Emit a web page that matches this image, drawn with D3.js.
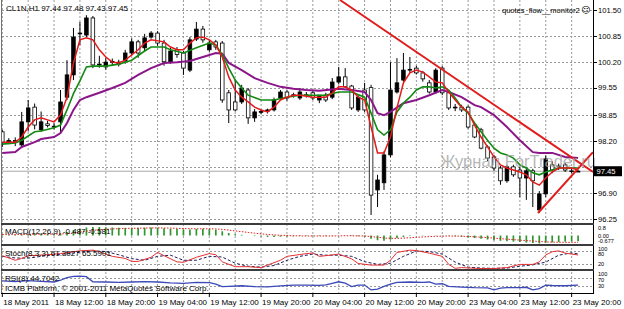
<!DOCTYPE html>
<html lang="en">
<head>
<meta charset="UTF-8">
<title>CL1N,H1</title>
<style>
    body {
        margin: 0;
        padding: 0;
        background: #fff;
        overflow: hidden;
    }
    svg {
        display: block;
        font-family: "Liberation Sans", Arial, sans-serif;
    }
</style>
</head>
<body>
<div id="chart"></div>
<script src="https://d3js.org/d3.v7.min.js"></script>
<script>
// hourly candles, bar 0 = 18 May 04:00
const opens = [98.44, 98.20, 98.22, 98.11, 98.69, 99.06, 98.49, 98.64, 98.58, 98.69,
    99.31, 99.87, 100.90, 100.87, 101.30, 100.12, 100.07, 100.20, 100.14, 100.22,
    100.42, 100.70, 100.55, 100.82, 100.92, 100.67, 100.20, 100.50, 100.42, 99.99,
    100.77, 101.02, 100.50, 100.70, 100.67, 99.42, 99.19, 99.19, 99.49, 98.79,
    98.94, 98.96, 98.99, 99.29, 99.44, 99.36, 99.29, 99.36, 99.42, 99.24,
    99.36, 99.31, 99.69, 99.82, 99.59, 98.99, 99.49, 99.55, 96.98, 97.16,
    97.86, 99.44, 99.74, 99.99, 100.04, 99.92, 99.67, 99.44, 100.04, 99.42,
    99.06, 99.06, 99.06, 98.61, 98.49, 98.06, 97.81, 97.53, 97.21, 97.56,
    97.48, 97.28, 97.46, 96.48, 96.88, 97.61, 97.58, 97.61, 97.46, 97.44];
const highs = [98.49, 98.28, 98.30, 98.94, 99.24, 99.15, 98.95, 98.72, 98.66, 99.49,
    100.24, 101.05, 101.20, 101.37, 101.35, 100.35, 100.30, 100.28, 100.25, 100.50,
    100.79, 100.75, 100.90, 100.97, 100.97, 100.75, 100.55, 100.57, 100.47, 100.82,
    101.20, 101.10, 100.75, 100.75, 100.72, 99.49, 99.75, 99.62, 99.54, 99.01,
    99.00, 99.02, 99.30, 99.49, 99.49, 99.42, 99.54, 99.44, 99.49, 99.36,
    99.42, 99.79, 100.07, 100.04, 99.62, 99.36, 99.67, 99.62, 97.36, 97.95,
    100.19, 100.29, 100.42, 100.32, 100.10, 99.97, 99.74, 100.04, 100.09, 99.44,
    99.14, 99.12, 99.10, 98.66, 98.54, 98.10, 97.86, 97.58, 97.61, 97.61,
    97.56, 97.53, 97.51, 96.95, 97.85, 97.70, 97.64, 97.66, 97.52, 97.48];
const lows = [98.06, 98.13, 98.08, 98.06, 98.45, 98.50, 98.44, 98.55, 98.50, 98.42,
    99.24, 99.74, 100.62, 100.82, 100.04, 100.05, 100.00, 100.12, 100.08, 100.15,
    100.35, 100.30, 100.45, 100.78, 100.60, 100.10, 100.15, 100.30, 99.87, 99.94,
    100.72, 100.68, 100.45, 100.50, 99.17, 98.66, 98.95, 99.14, 98.64, 98.69,
    98.88, 98.90, 98.95, 99.24, 99.22, 99.30, 99.24, 99.30, 99.24, 99.16,
    99.19, 99.26, 99.64, 99.54, 98.99, 98.94, 98.94, 96.35, 96.55, 96.98,
    97.80, 99.40, 99.70, 99.92, 99.88, 99.70, 99.40, 99.40, 99.36, 98.99,
    98.96, 98.94, 98.52, 98.28, 98.00, 97.71, 97.46, 97.11, 97.16, 97.31,
    96.80, 96.73, 96.55, 96.40, 96.80, 97.40, 97.48, 97.43, 97.40, 97.43];
const closes = [98.18, 98.22, 98.20, 98.69, 99.04, 98.61, 98.69, 98.60, 98.56, 99.19,
    99.87, 100.82, 100.92, 101.30, 100.12, 100.14, 100.19, 100.21, 100.19, 100.42,
    100.70, 100.42, 100.80, 100.92, 100.67, 100.20, 100.47, 100.38, 100.04, 100.75,
    101.02, 100.75, 100.67, 100.57, 99.24, 98.99, 98.99, 99.54, 98.79, 98.94,
    98.95, 98.99, 99.24, 99.44, 99.29, 99.37, 99.44, 99.37, 99.29, 99.36,
    99.24, 99.69, 99.82, 99.57, 99.04, 99.31, 98.99, 96.85, 97.23, 97.86,
    99.49, 99.67, 99.99, 100.01, 99.92, 99.77, 99.44, 99.99, 99.42, 99.04,
    99.06, 98.99, 98.56, 98.31, 98.03, 97.78, 97.53, 97.21, 97.56, 97.36,
    97.28, 97.46, 97.21, 96.88, 97.76, 97.48, 97.56, 97.48, 97.44, 97.45];

// moving averages: [bar, price]
const maFast = [[0, 98.18], [2, 98.18], [3, 98.31], [4, 98.56], [5, 98.74], [6, 98.79], [7, 98.74], [8, 98.69],
    [9, 98.86], [10, 99.31], [11, 100.17], [12, 100.75], [13, 100.80], [14, 100.75], [15, 100.50], [16, 100.32],
    [17, 100.19], [18, 100.17], [19, 100.24], [20, 100.37], [21, 100.50], [22, 100.67], [23, 100.75], [25, 100.70],
    [26, 100.57], [27, 100.50], [28, 100.50], [29, 100.67], [30, 100.80], [31, 100.82], [32, 100.75], [33, 100.62],
    [34, 100.32], [35, 99.82], [36, 99.49], [37, 99.31], [38, 99.19], [39, 99.06], [40, 98.99], [41, 98.94],
    [42, 99.06], [43, 99.24], [44, 99.31], [45, 99.36], [46, 99.36], [48, 99.31], [50, 99.31], [51, 99.42],
    [52, 99.57], [53, 99.57], [54, 99.49], [55, 99.31], [56, 99.24], [57, 98.56], [58, 97.91], [59, 97.91],
    [60, 98.31], [61, 99.04], [62, 99.67], [63, 99.92], [64, 99.99], [65, 99.94], [66, 99.82], [67, 99.69],
    [68, 99.67], [69, 99.44], [70, 99.24], [71, 99.06], [72, 98.94], [73, 98.61], [74, 98.31], [75, 98.06],
    [76, 97.81], [77, 97.61], [78, 97.53], [79, 97.48], [80, 97.43], [81, 97.36], [82, 97.18], [83, 97.10],
    [84, 97.28], [85, 97.43], [86, 97.53], [87, 97.53], [88, 97.53], [89, 97.48]];
const maMid = [[0, 98.13], [2, 98.16], [3, 98.23], [5, 98.44], [6, 98.46], [8, 98.54], [9, 98.61], [10, 98.99],
    [11, 99.40], [12, 99.72], [13, 100.07], [14, 100.09], [16, 100.09], [18, 100.14], [20, 100.24], [22, 100.47],
    [23, 100.57], [25, 100.57], [26, 100.50], [28, 100.42], [30, 100.55], [32, 100.67], [33, 100.62], [34, 100.37],
    [35, 100.04], [36, 99.74], [37, 99.54], [38, 99.36], [40, 99.24], [42, 99.24], [44, 99.31], [46, 99.36],
    [50, 99.36], [52, 99.44], [54, 99.44], [56, 99.31], [57, 98.91], [58, 98.49], [59, 98.36], [60, 98.49],
    [61, 98.94], [62, 99.16], [63, 99.31], [64, 99.49], [65, 99.57], [66, 99.57], [67, 99.54], [68, 99.57],
    [69, 99.49], [70, 99.29], [71, 99.06], [72, 98.91], [73, 98.66], [74, 98.44], [75, 98.23], [76, 98.03],
    [77, 97.91], [78, 97.86], [79, 97.78], [80, 97.61], [81, 97.53], [82, 97.41], [83, 97.36], [84, 97.43],
    [85, 97.48], [86, 97.53], [88, 97.53], [89, 97.53]];
const maSlow = [[0, 97.91], [2, 97.93], [3, 98.06], [5, 98.18], [6, 98.26], [8, 98.31], [9, 98.41], [10, 98.66],
    [11, 98.99], [12, 99.24], [13, 99.31], [15, 99.42], [17, 99.54], [19, 99.67], [21, 99.87], [23, 100.04],
    [25, 100.17], [27, 100.19], [29, 100.22], [31, 100.32], [33, 100.42], [34, 100.40], [35, 100.17], [37, 99.99],
    [39, 99.79], [41, 99.67], [43, 99.57], [45, 99.52], [47, 99.49], [49, 99.47], [52, 99.52], [54, 99.49],
    [56, 99.44], [57, 99.24], [58, 98.91], [59, 98.86], [60, 98.94], [62, 99.16], [64, 99.24], [66, 99.36],
    [68, 99.49], [69, 99.44], [71, 99.31], [73, 99.11], [74, 99.06], [76, 98.86], [78, 98.56], [80, 98.23],
    [82, 97.93], [83, 97.91], [85, 97.91], [87, 97.81], [89, 97.78]];

// trend lines drawn on the chart: [bar, price] pairs
const trendLines = [
    [[52.2, 101.75], [91.3, 97.43]],
    [[82.8, 96.40], [91.3, 97.93]]
];
const lastPrice = 97.45;

const macdMain = [0.10, 0.09, 0.08, 0.10, 0.13, 0.15, 0.15, 0.14, 0.13, 0.18,
    0.30, 0.46, 0.58, 0.68, 0.72, 0.72, 0.70, 0.68, 0.66, 0.65,
    0.66, 0.65, 0.66, 0.68, 0.67, 0.62, 0.58, 0.55, 0.50, 0.52,
    0.56, 0.58, 0.55, 0.50, 0.36, 0.22, 0.12, 0.06, 0.00, -0.05,
    -0.09, -0.12, -0.12, -0.10, -0.08, -0.07, -0.05, -0.04, -0.04, -0.04,
    -0.05, -0.03, 0.00, 0.01, -0.04, -0.07, -0.10, -0.28, -0.40, -0.45,
    -0.35, -0.22, -0.12, -0.05, 0.00, 0.02, 0.01, 0.02, 0.02, -0.02,
    -0.06, -0.10, -0.16, -0.22, -0.28, -0.34, -0.40, -0.45, -0.48, -0.52,
    -0.56, -0.60, -0.64, -0.67, -0.62, -0.58, -0.55, -0.52, -0.50, -0.49];
const macdSignal = [0.08, 0.08, 0.08, 0.08, 0.09, 0.10, 0.11, 0.12, 0.12, 0.13,
    0.16, 0.22, 0.29, 0.37, 0.44, 0.49, 0.53, 0.56, 0.58, 0.60,
    0.61, 0.62, 0.63, 0.64, 0.65, 0.64, 0.63, 0.61, 0.59, 0.58,
    0.57, 0.57, 0.57, 0.56, 0.52, 0.46, 0.39, 0.33, 0.26, 0.20,
    0.14, 0.09, 0.05, 0.02, 0.00, -0.02, -0.03, -0.04, -0.04, -0.04,
    -0.04, -0.04, -0.03, -0.02, -0.02, -0.03, -0.04, -0.09, -0.15, -0.21,
    -0.24, -0.24, -0.22, -0.19, -0.15, -0.12, -0.09, -0.07, -0.05, -0.04,
    -0.05, -0.06, -0.08, -0.11, -0.14, -0.18, -0.22, -0.27, -0.31, -0.35,
    -0.39, -0.43, -0.47, -0.51, -0.54, -0.56, -0.57, -0.58, -0.58, -0.58];

const stochMain = [[0, 58], [2, 38], [3, 46], [4, 58], [7, 62], [9, 67], [10, 71], [12, 79], [14, 82], [15, 75],
    [17, 55], [19, 46], [20, 33], [21, 33], [23, 51], [24, 72], [25, 58], [27, 31], [28, 29], [30, 51],
    [32, 67], [33, 62], [34, 31], [36, 10], [38, 10], [40, 6], [41, 17], [43, 38], [44, 55], [46, 63],
    [48, 70], [49, 55], [51, 61], [52, 65], [54, 44], [55, 24], [57, 17], [59, 17], [60, 38], [61, 72],
    [63, 82], [64, 80], [66, 69], [68, 55], [69, 20], [70, 3], [71, 6], [74, 2], [76, 2], [78, 6],
    [80, 20], [82, 20], [83, 31], [84, 61], [85, 75], [86, 79], [87, 69], [89, 61]];
const stochSignal = [[0, 55], [2, 48], [4, 47], [6, 55], [8, 62], [10, 66], [12, 73], [14, 79], [16, 76], [18, 62],
    [20, 45], [22, 38], [24, 55], [26, 60], [28, 38], [30, 38], [32, 55], [34, 52], [36, 25], [38, 12],
    [40, 8], [42, 15], [44, 38], [46, 55], [48, 65], [50, 60], [52, 60], [54, 55], [56, 32], [58, 20],
    [60, 25], [62, 55], [64, 78], [66, 76], [68, 65], [70, 30], [72, 8], [74, 4], [76, 3], [78, 4],
    [80, 12], [82, 18], [84, 30], [86, 60], [88, 70], [89, 66]];
const rsiValues = [[0, 55], [2, 52], [4, 56], [6, 53], [8, 50], [9, 58], [10, 70], [11, 76], [12, 77], [13, 74],
    [14, 51], [16, 50], [18, 48], [20, 50], [22, 52], [24, 50], [26, 46], [28, 44], [30, 48], [32, 47],
    [33, 40], [34, 29], [35, 30], [37, 33], [39, 29], [41, 28], [43, 32], [45, 36], [47, 36], [49, 35],
    [50, 37], [51, 44], [52, 51], [53, 45], [54, 29], [55, 36], [56, 36], [57, 14], [58, 18], [59, 30],
    [60, 40], [61, 48], [63, 50], [65, 48], [66, 50], [67, 40], [68, 42], [69, 30], [71, 27], [73, 24],
    [75, 23], [76, 14], [77, 22], [78, 24], [80, 24], [81, 26], [82, 14], [83, 20], [84, 36], [85, 34],
    [87, 33], [89, 36]];

const priceTicks = [101.50, 100.85, 100.20, 99.55, 98.85, 98.20, 97.55, 96.90, 96.25];
const macdTicks = [0.85, 0.00, -0.677];
const macdTickLabels = ["0.8", "0.00", "-0.677"];
const stochLevels = [100, 80, 20];
const rsiLevels = [100, 70, 30];
const timeBars = [0, 8, 16, 24, 32, 40, 48, 56, 64, 72, 80, 88];
const timeLabels = ["18 May 2011", "18 May 12:00", "18 May 20:00", "19 May 04:00", "19 May 12:00", "19 May 20:00",
    "20 May 04:00", "20 May 12:00", "20 May 20:00", "23 May 04:00", "23 May 12:00", "23 May 20:00"];

const width = 624, height = 309;
const left = 2, right = 593;
const panels = {
    main: { top: 0, bottom: 223 },
    macd: { top: 225, bottom: 244 },
    stoch: { top: 246, bottom: 269 },
    rsi: { top: 271, bottom: 293 }
};

const svg = d3.select('#chart').append('svg')
    .attr('width', width)
    .attr('height', height);

const x = d3.scaleLinear().domain([0, 89]).range([2.3, 578.1]);
const yMain = d3.scaleLinear().domain([96.25, 101.50]).range([219, 10]);
const yMacd = d3.scaleLinear().domain([-0.677, 0.85]).range([243.5, 225.5]);
const yStoch = d3.scaleLinear().domain([0, 100]).range([269, 246]);
const yRsi = d3.scaleLinear().domain([0, 100]).range([293, 271]);

// clip paths per panel
const defs = svg.append('defs');
Object.entries(panels).forEach(([name, p]) => {
    defs.append('clipPath').attr('id', 'clip-' + name)
        .append('rect')
        .attr('x', left).attr('y', p.top)
        .attr('width', right - left).attr('height', p.bottom - p.top);
});

const gridColor = '#9a9a9a';

// vertical grid, every 4 bars, through all panels
svg.append('g')
    .selectAll('line')
    .data(d3.range(0, 90, 4))
    .enter().append('line')
    .attr('x1', d => x(d)).attr('x2', d => x(d))
    .attr('y1', 0).attr('y2', panels.rsi.bottom)
    .attr('stroke', gridColor)
    .attr('stroke-dasharray', '2,2');

// horizontal grid in main panel
svg.append('g')
    .selectAll('line')
    .data(priceTicks)
    .enter().append('line')
    .attr('x1', left).attr('x2', right)
    .attr('y1', d => Math.round(yMain(d)) + 0.5).attr('y2', d => Math.round(yMain(d)) + 0.5)
    .attr('stroke', gridColor)
    .attr('stroke-dasharray', '2,2');

// level lines in stochastic and RSI panels
svg.append('g')
    .selectAll('line')
    .data([80, 20])
    .enter().append('line')
    .attr('x1', left).attr('x2', right)
    .attr('y1', d => Math.round(yStoch(d)) + 0.5).attr('y2', d => Math.round(yStoch(d)) + 0.5)
    .attr('stroke', gridColor)
    .attr('stroke-dasharray', '2,2');
svg.append('g')
    .selectAll('line')
    .data([70, 30])
    .enter().append('line')
    .attr('x1', left).attr('x2', right)
    .attr('y1', d => Math.round(yRsi(d)) + 0.5).attr('y2', d => Math.round(yRsi(d)) + 0.5)
    .attr('stroke', gridColor)
    .attr('stroke-dasharray', '2,2');

// main panel
const main = svg.append('g').attr('clip-path', 'url(#clip-main)');

// bid line
main.append('line')
    .attr('x1', left).attr('x2', right)
    .attr('y1', yMain(lastPrice)).attr('y2', yMain(lastPrice))
    .attr('stroke', '#a8a8a8');

const candles = opens.map((o, i) => ({ i, o, h: highs[i], l: lows[i], c: closes[i] }));

main.append('g')
    .selectAll('line')
    .data(candles)
    .enter().append('line')
    .attr('x1', d => x(d.i)).attr('x2', d => x(d.i))
    .attr('y1', d => yMain(d.h)).attr('y2', d => yMain(d.l))
    .attr('stroke', '#000')
    .attr('stroke-width', 1);

main.append('g')
    .selectAll('rect')
    .data(candles)
    .enter().append('rect')
    .attr('x', d => x(d.i) - 1.8)
    .attr('width', 3.6)
    .attr('y', d => yMain(Math.max(d.o, d.c)))
    .attr('height', d => Math.max(0.8, Math.abs(yMain(d.o) - yMain(d.c))))
    .attr('fill', d => d.c >= d.o ? '#000' : '#fff')
    .attr('stroke', '#000')
    .attr('stroke-width', 0.8);

const priceLine = d3.line().x(d => x(d[0])).y(d => yMain(d[1]));

main.append('path').datum(maSlow)
    .attr('d', priceLine).attr('fill', 'none')
    .attr('stroke', '#8a168a').attr('stroke-width', 2);
main.append('path').datum(maMid)
    .attr('d', priceLine).attr('fill', 'none')
    .attr('stroke', '#118a11').attr('stroke-width', 1.6);
main.append('path').datum(maFast)
    .attr('d', priceLine).attr('fill', 'none')
    .attr('stroke', '#e41a1a').attr('stroke-width', 1.5);

main.append('g')
    .selectAll('line')
    .data(trendLines)
    .enter().append('line')
    .attr('x1', d => x(d[0][0])).attr('y1', d => yMain(d[0][1]))
    .attr('x2', d => x(d[1][0])).attr('y2', d => yMain(d[1][1]))
    .attr('stroke', '#e01c1c')
    .attr('stroke-width', 2);

// watermark
svg.append('text')
    .attr('x', 440).attr('y', 167)
    .attr('font-size', 16.5)
    .attr('fill', '#a4a4a4')
    .attr('fill-opacity', 0.8)
    .text('Журнал ForTrader.ru');

// MACD panel
const macd = svg.append('g').attr('clip-path', 'url(#clip-macd)');
macd.append('g')
    .selectAll('line')
    .data(macdMain)
    .enter().append('line')
    .attr('x1', (d, i) => x(i)).attr('x2', (d, i) => x(i))
    .attr('y1', yMacd(0)).attr('y2', d => yMacd(d))
    .attr('stroke', '#2f962f')
    .attr('stroke-width', 1.7);
macd.append('path').datum(macdSignal)
    .attr('d', d3.line().x((d, i) => x(i)).y(d => yMacd(d)))
    .attr('fill', 'none')
    .attr('stroke', '#e02020')
    .attr('stroke-width', 1)
    .attr('stroke-dasharray', '1.5,1.5');

// Stochastic panel
const stoch = svg.append('g').attr('clip-path', 'url(#clip-stoch)');
const stochLine = d3.line().x(d => x(d[0])).y(d => yStoch(d[1]));
stoch.append('path').datum(stochSignal)
    .attr('d', stochLine).attr('fill', 'none')
    .attr('stroke', '#1c1c5c').attr('stroke-width', 1)
    .attr('stroke-dasharray', '3,2');
stoch.append('path').datum(stochMain)
    .attr('d', stochLine).attr('fill', 'none')
    .attr('stroke', '#e43030').attr('stroke-width', 1);

// RSI panel
const rsi = svg.append('g').attr('clip-path', 'url(#clip-rsi)');
rsi.append('path').datum(rsiValues)
    .attr('d', d3.line().x(d => x(d[0])).y(d => yRsi(d[1])))
    .attr('fill', 'none')
    .attr('stroke', '#3a48b8').attr('stroke-width', 1.3);

// frame and separators
svg.append('line').attr('x1', 1.5).attr('x2', 1.5).attr('y1', 0).attr('y2', panels.rsi.bottom + 1)
    .attr('stroke', '#707070');
svg.append('line').attr('x1', right + 0.5).attr('x2', right + 0.5).attr('y1', 0).attr('y2', panels.rsi.bottom + 1)
    .attr('stroke', '#000');
svg.append('g')
    .selectAll('line')
    .data([panels.main.bottom + 1, panels.macd.bottom + 1, panels.stoch.bottom + 1])
    .enter().append('line')
    .attr('x1', 1).attr('x2', right + 1)
    .attr('y1', d => d).attr('y2', d => d)
    .attr('stroke', '#3c3c3c')
    .attr('stroke-width', 2);
svg.append('line').attr('x1', 1).attr('x2', right + 1)
    .attr('y1', panels.rsi.bottom + 0.5).attr('y2', panels.rsi.bottom + 0.5)
    .attr('stroke', '#000');

// price axis; the label under the current price tag is hidden, as in the terminal
const axisG = svg.append('g').attr('font-size', 7.6).attr('fill', '#000');
axisG.selectAll('line')
    .data(priceTicks)
    .enter().append('line')
    .attr('x1', right).attr('x2', right + 4)
    .attr('y1', d => Math.round(yMain(d)) + 0.5).attr('y2', d => Math.round(yMain(d)) + 0.5)
    .attr('stroke', '#000');
axisG.selectAll('text.price')
    .data(priceTicks.filter(d => Math.abs(yMain(d) - yMain(lastPrice)) > 8))
    .enter().append('text')
    .attr('class', 'price')
    .attr('x', 598)
    .attr('y', d => yMain(d) + 2.8)
    .text(d => d.toFixed(2));

// current price tag
svg.append('rect')
    .attr('x', 594).attr('y', yMain(lastPrice) - 5)
    .attr('width', 28).attr('height', 10)
    .attr('fill', '#000');
svg.append('text')
    .attr('x', 596.5).attr('y', yMain(lastPrice) + 2.8)
    .attr('font-size', 7.6)
    .attr('fill', '#fff')
    .text(lastPrice.toFixed(2));

// indicator scales (small, stacked so they do not collide)
const smallAxis = svg.append('g').attr('font-size', 5.6).attr('fill', '#000');
smallAxis.selectAll('text.macd')
    .data(macdTicks)
    .enter().append('text')
    .attr('class', 'macd')
    .attr('x', 598)
    .attr('y', (d, i) => [yMacd(d) + 4.5, yMacd(d) + 2.2, yMacd(d) - 0.3][i])
    .text((d, i) => macdTickLabels[i]);
smallAxis.selectAll('text.stoch')
    .data(stochLevels)
    .enter().append('text')
    .attr('class', 'stoch')
    .attr('x', 598)
    .attr('y', d => d === 100 ? yStoch(d) + 4.6 : (d === 80 ? yStoch(d) + 5.6 : yStoch(d) + 2))
    .text(d => d);
smallAxis.selectAll('text.rsi')
    .data(rsiLevels)
    .enter().append('text')
    .attr('class', 'rsi')
    .attr('x', 598)
    .attr('y', d => d === 100 ? yRsi(d) + 4.6 : (d === 70 ? yRsi(d) + 4.2 : yRsi(d) + 2))
    .text(d => d);

// time axis
const timeG = svg.append('g').attr('font-size', 8).attr('fill', '#000');
timeG.selectAll('line')
    .data(timeBars)
    .enter().append('line')
    .attr('x1', d => x(d)).attr('x2', d => x(d))
    .attr('y1', panels.rsi.bottom).attr('y2', panels.rsi.bottom + 4)
    .attr('stroke', '#000');
timeG.selectAll('text')
    .data(timeBars)
    .enter().append('text')
    .attr('x', d => x(d) + 1)
    .attr('y', 305)
    .text((d, i) => timeLabels[i]);

// panel captions
const captions = svg.append('g').attr('font-size', 8).attr('fill', '#000');
captions.append('text').attr('x', 6).attr('y', 11).text('CL1N,H1  97.44 97.48 97.43 97.45');
captions.append('text').attr('x', 5).attr('y', 234).text('MACD(12,26,9) -0.487 -0.581');
captions.append('text').attr('x', 5).attr('y', 256).text('Stoch(8,3,3) 61.3027 65.5901');
captions.append('text').attr('x', 5).attr('y', 281).text('RSI(8) 44.7042');
captions.append('text').attr('x', 5).attr('y', 290.5).text('ICMB Platform, © 2001-2011 MetaQuotes Software Corp.');
captions.append('text').attr('x', 502).attr('y', 12.5).attr('font-size', 7.5)
    .text('quotes_flow__monitor2');
svg.append('text').attr('x', 581).attr('y', 13).attr('font-size', 9)
    .attr('font-family', '"DejaVu Sans", sans-serif')
    .text('☺');
</script>
</body>
</html>
